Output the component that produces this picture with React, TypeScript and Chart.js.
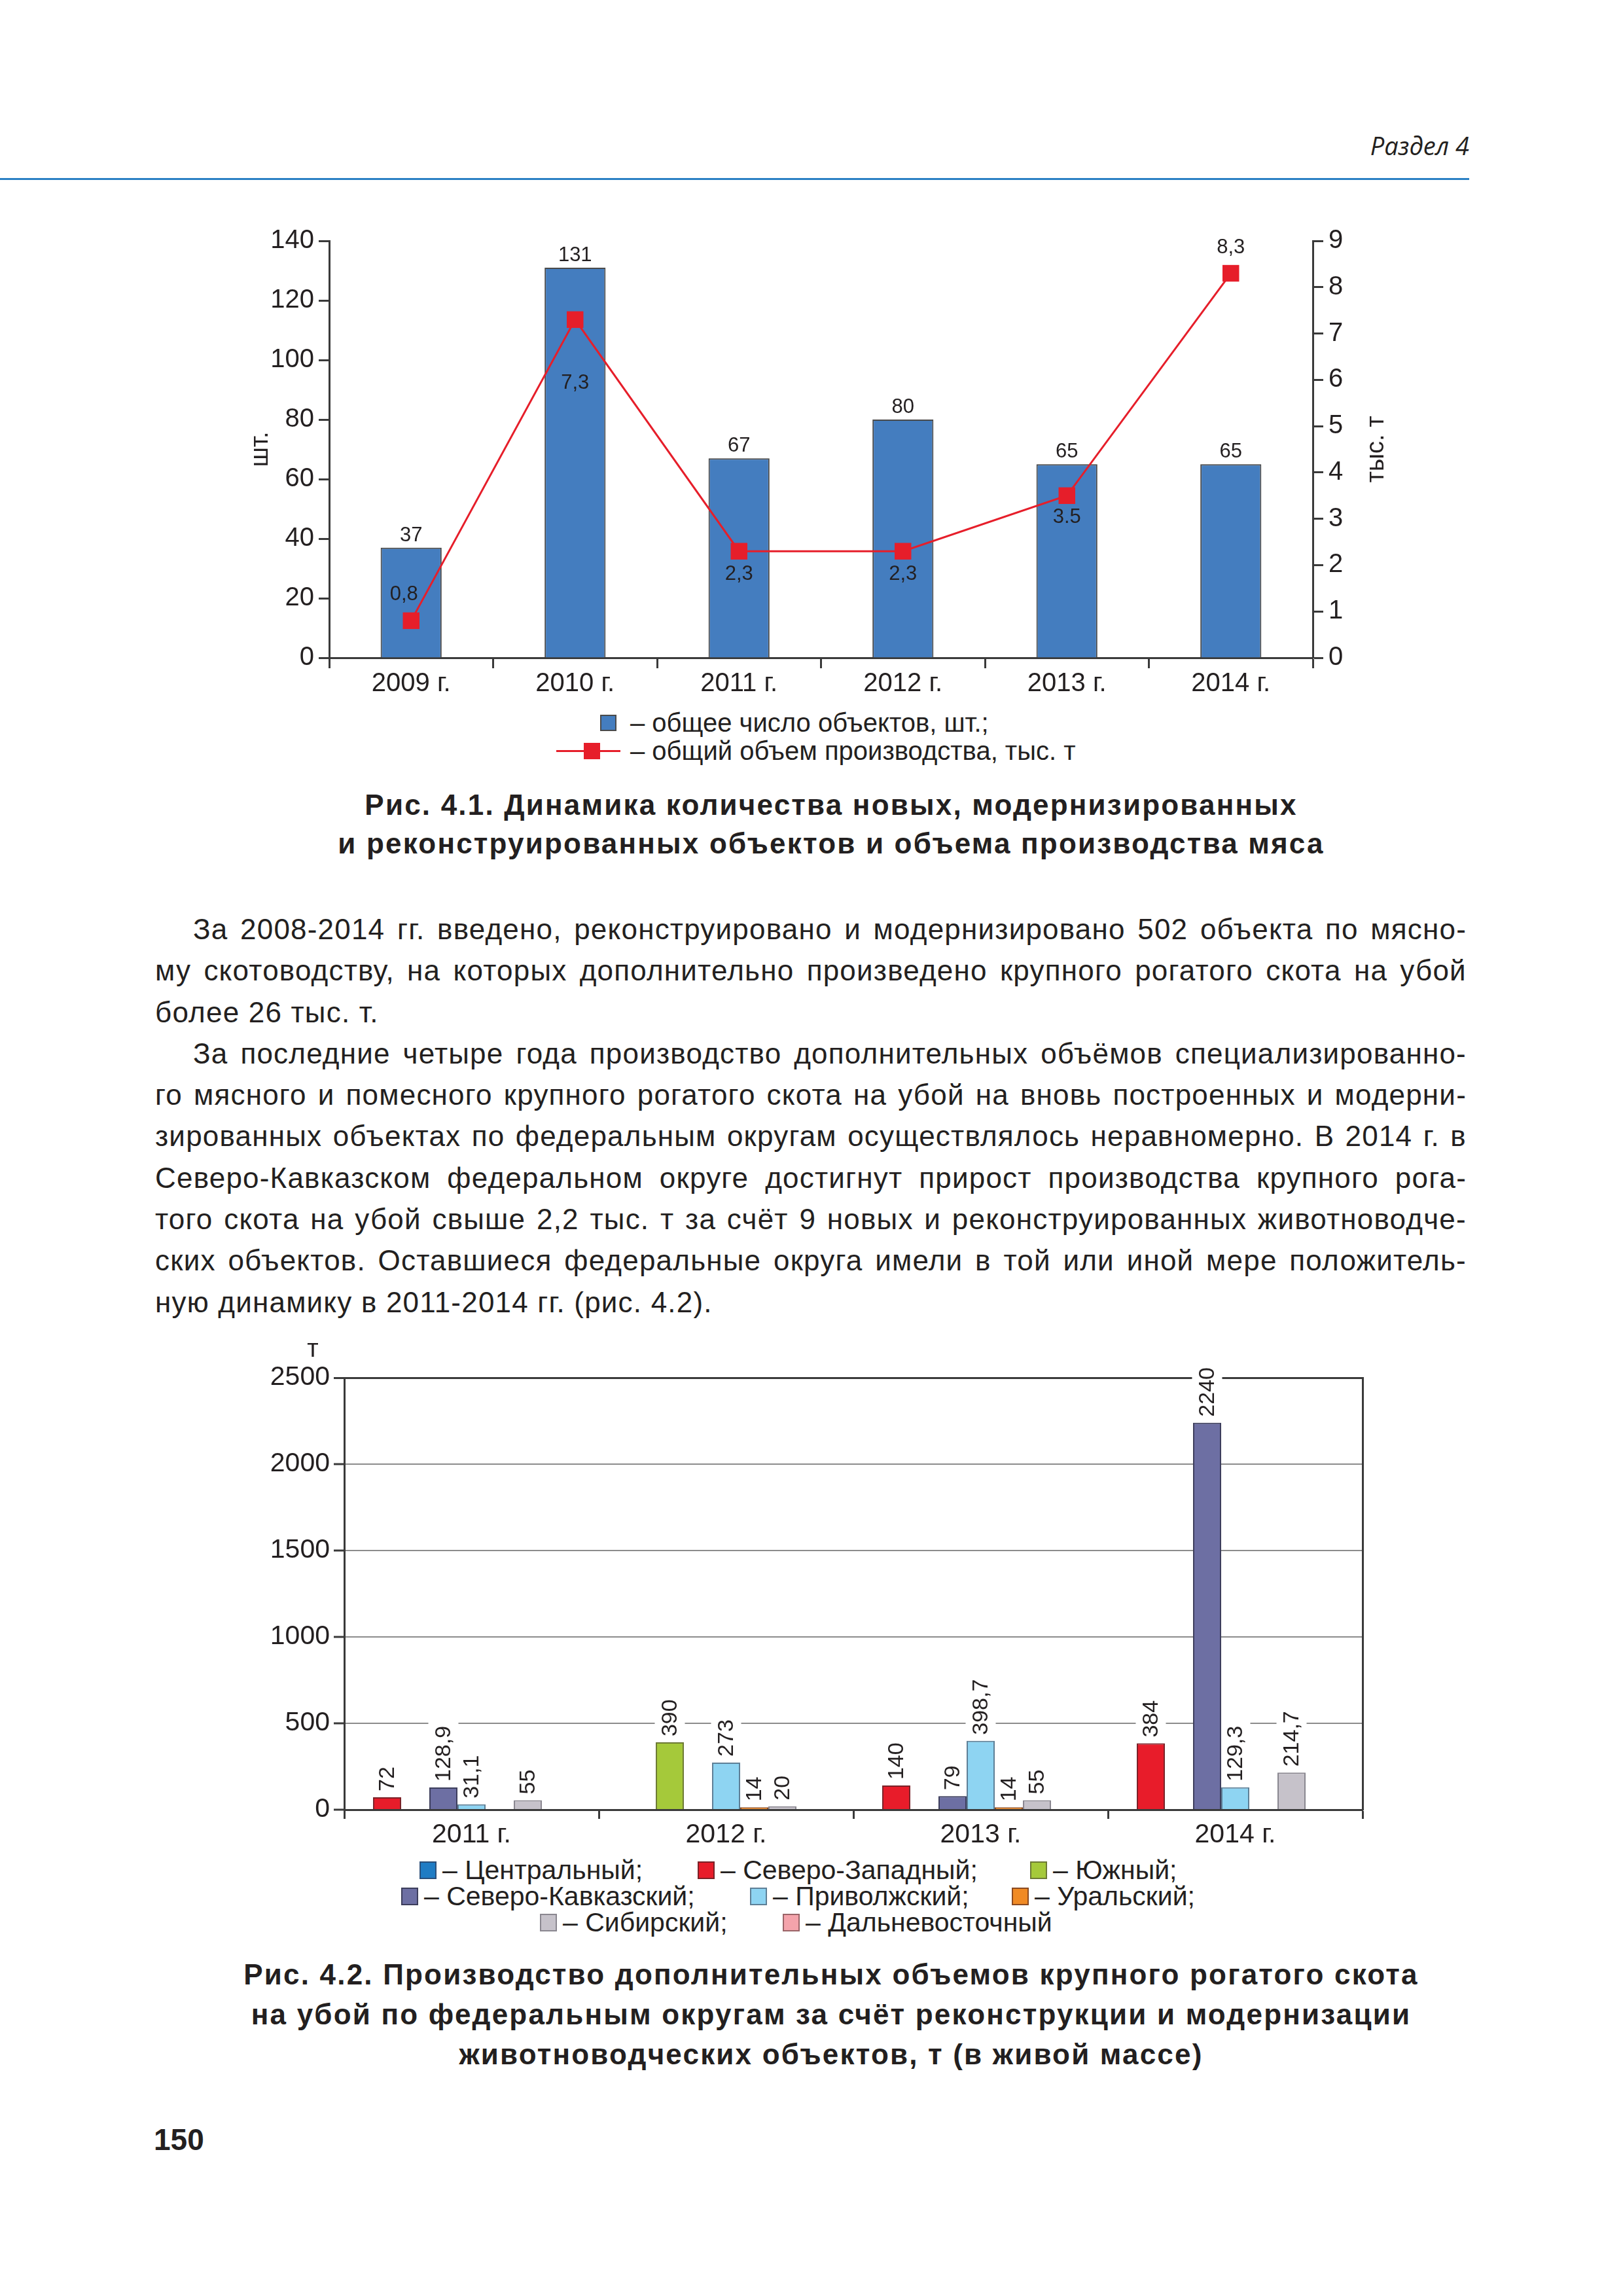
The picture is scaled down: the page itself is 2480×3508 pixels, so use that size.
import React, { useEffect, useRef } from "react";
import { Chart, registerables } from "chart.js";

Chart.register(...registerables);

// ---------- data: figure 4.1 ----------
const years1 = ["2009 г.", "2010 г.", "2011 г.", "2012 г.", "2013 г.", "2014 г."];
const objectCounts = [37, 131, 67, 80, 65, 65];
const productionVolume = [0.8, 7.3, 2.3, 2.3, 3.5, 8.3];
const productionVolumeLabels = ["0,8", "7,3", "2,3", "2,3", "3.5", "8,3"];

// ---------- data: figure 4.2 ----------
const years2 = ["2011 г.", "2012 г.", "2013 г.", "2014 г."];
const districts = [
  "Центральный",
  "Северо-Западный",
  "Южный",
  "Северо-Кавказский",
  "Приволжский",
  "Уральский",
  "Сибирский",
  "Дальневосточный",
];
const central: (number | null)[] = [null, null, null, null];
const northWest: (number | null)[] = [72, null, 140, 384];
const south: (number | null)[] = [null, 390, null, null];
const northCaucasus: (number | null)[] = [128.9, null, 79, 2240];
const volga: (number | null)[] = [31.1, 273, 398.7, 129.3];
const ural: (number | null)[] = [null, 14, 14, null];
const siberia: (number | null)[] = [55, 20, 55, 214.7];
const farEast: (number | null)[] = [null, null, null, null];

// ---------- text ----------
const BODY_LINES = [
  { text: "За 2008-2014 гг. введено, реконструировано и модернизировано 502 объекта по мясно-", indent: true },
  { text: "му скотоводству, на которых дополнительно произведено крупного рогатого скота на убой" },
  { text: "более 26 тыс. т.", last: true },
  { text: "За последние четыре года производство дополнительных объёмов специализированно-", indent: true },
  { text: "го мясного и помесного крупного рогатого скота на убой на вновь построенных и модерни-" },
  { text: "зированных объектах по федеральным округам осуществлялось неравномерно. В 2014 г. в" },
  { text: "Северо-Кавказском федеральном округе достигнут прирост производства крупного рога-" },
  { text: "того скота на убой свыше 2,2 тыс. т за счёт 9 новых и реконструированных животноводче-" },
  { text: "ских объектов. Оставшиеся федеральные округа имели в той или иной мере положитель-" },
  { text: "ную динамику в 2011-2014 гг. (рис. 4.2).", last: true },
];
const CAPTION1 = [
  "Рис. 4.1. Динамика количества новых, модернизированных",
  "и реконструированных объектов и объема производства мяса",
];
const CAPTION2 = [
  "Рис. 4.2. Производство дополнительных объемов крупного рогатого скота",
  "на убой по федеральным округам за счёт реконструкции и модернизации",
  "животноводческих объектов, т (в живой массе)",
];

// ---------- styles ----------
const FONT = '"Liberation Sans", Arial, Helvetica, sans-serif';
const INK = "#231f20";
const AXIS = "#3a3a3a";
const BLUE = "#447dbf";
const RED = "#e61e2a";
const DISTRICT_FILL = ["#1f7cc4", "#e81c2a", "#a5c93a", "#6d6fa3", "#8ed4f2", "#f08a24", "#c6c2ca", "#f4a3ab"];
const DISTRICT_BORDER = ["#2a4f7a", "#7a2228", "#6d7a35", "#3d3e5c", "#5e7f96", "#8b4a20", "#8a8790", "#9a6468"];
// label placement of the volume labels relative to their points (dx, dy)
const VOLUME_LABEL_OFFSETS = [
  [-11, -40],
  [0, 97],
  [0, 35],
  [0, 35],
  [0, 33],
  [0, -39],
];

const fmt = (v: number) => String(v).replace(".", ",");

function drawRotated(ctx: CanvasRenderingContext2D, text: string, x: number, y: number) {
  ctx.save();
  ctx.translate(x, y);
  ctx.rotate(-Math.PI / 2);
  ctx.textAlign = "center";
  ctx.textBaseline = "middle";
  ctx.fillText(text, 0, 0);
  ctx.restore();
}

const chart1Labels = {
  id: "chart1Labels",
  afterDatasetsDraw(chart: any) {
    const ctx: CanvasRenderingContext2D = chart.ctx;
    ctx.save();
    ctx.fillStyle = INK;
    ctx.font = `31px ${FONT}`;
    ctx.textAlign = "center";
    const barMeta = chart.getDatasetMeta(1);
    barMeta.data.forEach((el: any, i: number) => {
      ctx.textBaseline = "bottom";
      ctx.fillText(String(objectCounts[i]), el.x, el.y - 3);
    });
    const lineMeta = chart.getDatasetMeta(0);
    lineMeta.data.forEach((el: any, i: number) => {
      const [dx, dy] = VOLUME_LABEL_OFFSETS[i];
      ctx.textBaseline = "middle";
      ctx.fillText(productionVolumeLabels[i], el.x + dx, el.y + dy);
    });
    const { left, right, top, bottom } = chart.chartArea;
    const mid = (top + bottom) / 2;
    ctx.font = `38px ${FONT}`;
    drawRotated(ctx, "шт.", left - 104, mid);
    drawRotated(ctx, "тыс. т", right + 98, mid);
    ctx.restore();
  },
};

const LABEL_GAP = 9;
const LABEL_FONT = 34;

function eachBarLabel(chart: any, cb: (text: string, x: number, y: number, w: number) => void) {
  const ctx: CanvasRenderingContext2D = chart.ctx;
  ctx.font = `${LABEL_FONT}px ${FONT}`;
  chart.data.datasets.forEach((ds: any, di: number) => {
    if (!ds.label) return;
    const meta = chart.getDatasetMeta(di);
    meta.data.forEach((el: any, i: number) => {
      const v = ds.data[i];
      if (v === null || v === undefined) return;
      const text = fmt(v);
      const w = ctx.measureText(text).width;
      cb(text, el.x, el.y, w);
    });
  });
}

const chart2Labels = {
  id: "chart2Labels",
  beforeDatasetsDraw(chart: any) {
    const ctx: CanvasRenderingContext2D = chart.ctx;
    ctx.save();
    ctx.fillStyle = "#ffffff";
    eachBarLabel(chart, (text, x, y, w) => {
      ctx.fillRect(x - 23, y - LABEL_GAP - w - 8, 46, w + 12);
    });
    ctx.restore();
  },
  afterDatasetsDraw(chart: any) {
    const ctx: CanvasRenderingContext2D = chart.ctx;
    ctx.save();
    ctx.fillStyle = INK;
    eachBarLabel(chart, (text, x, y) => {
      ctx.save();
      ctx.translate(x, y - LABEL_GAP);
      ctx.rotate(-Math.PI / 2);
      ctx.textAlign = "left";
      ctx.textBaseline = "middle";
      ctx.fillText(text, 0, 1);
      ctx.restore();
    });
    ctx.restore();
  },
  afterDraw(chart: any) {
    const ctx: CanvasRenderingContext2D = chart.ctx;
    const { left, top } = chart.chartArea;
    ctx.save();
    ctx.fillStyle = INK;
    ctx.font = `38px ${FONT}`;
    ctx.textAlign = "center";
    ctx.textBaseline = "middle";
    ctx.fillText("т", left - 48, top - 42);
    ctx.restore();
  },
};

function Figure1() {
  const ref = useRef<HTMLCanvasElement | null>(null);
  useEffect(() => {
    if (!ref.current) return;
    const tickFont = { family: FONT, size: 40 };
    const chart = new Chart(ref.current, {
      type: "bar",
      data: {
        labels: years1,
        datasets: [
          {
            type: "line",
            label: "общий объем производства, тыс. т",
            data: productionVolume,
            yAxisID: "y2",
            borderColor: RED,
            borderWidth: 3,
            pointStyle: "rect",
            pointRadius: 18,
            pointBackgroundColor: RED,
            pointBorderColor: RED,
            pointBorderWidth: 0,
            tension: 0,
            order: 0,
          } as any,
          {
            type: "bar",
            label: "общее число объектов, шт.",
            data: objectCounts,
            yAxisID: "y",
            backgroundColor: BLUE,
            borderColor: "#4a4a4a",
            borderWidth: 2,
            barPercentage: 0.372,
            categoryPercentage: 1,
            order: 1,
          } as any,
        ],
      },
      options: {
        responsive: false,
        animation: false,
        devicePixelRatio: 1,
        layout: { padding: { top: 38, left: 0, right: 0, bottom: 0 } },
        plugins: { legend: { display: false }, tooltip: { enabled: false } },
        scales: {
          x: {
            offset: true,
            grid: { offset: true, drawOnChartArea: false, drawTicks: true, tickLength: 16, tickWidth: 3, tickColor: AXIS },
            border: { color: AXIS, width: 3 },
            ticks: { font: tickFont, color: INK, padding: 0 },
            afterFit: (s: any) => {
              s.height = 65;
            },
          },
          y: {
            position: "left",
            min: 0,
            max: 140,
            ticks: { stepSize: 20, font: tickFont, color: INK, padding: 7 },
            grid: { drawOnChartArea: false, drawTicks: true, tickLength: 16, tickWidth: 3, tickColor: AXIS },
            border: { color: AXIS, width: 3 },
            afterFit: (s: any) => {
              s.width = 123;
            },
          },
          y2: {
            position: "right",
            min: 0,
            max: 9,
            ticks: { stepSize: 1, font: tickFont, color: INK, padding: 8 },
            grid: { drawOnChartArea: false, drawTicks: true, tickLength: 16, tickWidth: 3, tickColor: AXIS },
            border: { color: AXIS, width: 3 },
            afterFit: (s: any) => {
              s.width = 174;
            },
          },
        },
      } as any,
      plugins: [chart1Labels],
    });
    return () => chart.destroy();
  }, []);
  return (
    <canvas
      ref={ref}
      width={1800}
      height={740}
      style={{ position: "absolute", left: 380, top: 330, width: 1800, height: 740 }}
    />
  );
}

function Figure2() {
  const ref = useRef<HTMLCanvasElement | null>(null);
  useEffect(() => {
    if (!ref.current) return;
    const series = [central, northWest, south, northCaucasus, volga, ural, siberia, farEast];
    const datasets: any[] = districts.map((name, i) => ({
      label: name,
      data: series[i],
      backgroundColor: DISTRICT_FILL[i],
      borderColor: DISTRICT_BORDER[i],
      borderWidth: 2,
      barPercentage: 1,
      categoryPercentage: 0.995,
    }));
    // empty trailing slot, as in the original layout of the groups
    datasets.push({ label: "", data: [null, null, null, null], barPercentage: 1, categoryPercentage: 0.995 });
    const chart = new Chart(ref.current, {
      type: "bar",
      data: { labels: years2, datasets },
      options: {
        responsive: false,
        animation: false,
        devicePixelRatio: 1,
        layout: { padding: { top: 65, left: 0, right: 58, bottom: 0 } },
        plugins: { legend: { display: false }, tooltip: { enabled: false } },
        scales: {
          x: {
            offset: true,
            grid: { offset: true, drawOnChartArea: false, drawTicks: true, tickLength: 14, tickWidth: 3, tickColor: AXIS },
            border: { color: AXIS, width: 3 },
            ticks: { font: { family: FONT, size: 41 }, color: INK, padding: 0 },
            afterFit: (s: any) => {
              s.height = 65;
            },
          },
          y: {
            position: "left",
            min: 0,
            max: 2500,
            ticks: {
              stepSize: 500,
              font: { family: FONT, size: 41 },
              color: INK,
              padding: 6,
              callback: (v: any) => String(v),
            },
            grid: {
              drawOnChartArea: true,
              drawTicks: true,
              tickLength: 16,
              tickWidth: 3,
              tickColor: AXIS,
              color: (c: any) => (c.tick && c.tick.value === 2500 ? AXIS : "#8c8c8c"),
              lineWidth: (c: any) => (c.tick && c.tick.value === 2500 ? 3 : 2),
            },
            border: { color: AXIS, width: 3 },
            afterFit: (s: any) => {
              s.width = 146;
            },
          },
          y2: {
            position: "right",
            min: 0,
            max: 2500,
            ticks: { display: false },
            grid: { display: false },
            border: { display: true, color: AXIS, width: 3 },
            afterFit: (s: any) => {
              s.width = 0;
            },
          },
        },
      } as any,
      plugins: [chart2Labels],
    });
    return () => chart.destroy();
  }, []);
  return (
    <canvas
      ref={ref}
      width={1760}
      height={790}
      style={{ position: "absolute", left: 380, top: 2040, width: 1760, height: 790 }}
    />
  );
}

const legendText: React.CSSProperties = {
  fontFamily: FONT,
  fontSize: 40,
  color: INK,
  whiteSpace: "nowrap",
};

function Legend1() {
  return (
    <>
      <div style={{ position: "absolute", left: 850, top: 1084, height: 41, display: "flex", alignItems: "center" }}>
        <div style={{ width: 113, height: 41, position: "relative" }}>
          <div
            style={{
              position: "absolute",
              left: 67,
              top: 8,
              width: 21,
              height: 21,
              background: BLUE,
              border: "2px solid #4a4a4a",
            }}
          />
        </div>
        <span style={legendText}>– общее число объектов, шт.;</span>
      </div>
      <div style={{ position: "absolute", left: 850, top: 1127, height: 41, display: "flex", alignItems: "center" }}>
        <div style={{ width: 113, height: 41, position: "relative" }}>
          <div style={{ position: "absolute", left: 0, top: 19, width: 98, height: 3, background: RED }} />
          <div style={{ position: "absolute", left: 42, top: 8, width: 25, height: 25, background: RED }} />
        </div>
        <span style={legendText}>– общий объем производства, тыс. т</span>
      </div>
    </>
  );
}

const LEGEND2_POS = [
  [641, 2857],
  [1066, 2857],
  [1574, 2857],
  [613, 2897],
  [1146, 2897],
  [1546, 2897],
  [825, 2937],
  [1196, 2937],
];

function Legend2() {
  return (
    <>
      {districts.map((name, i) => {
        const [x, cy] = LEGEND2_POS[i];
        const last = i === districts.length - 1;
        return (
          <div
            key={name}
            style={{ position: "absolute", left: x, top: cy - 20, height: 40, display: "flex", alignItems: "center" }}
          >
            <div
              style={{
                width: 22,
                height: 23,
                background: DISTRICT_FILL[i],
                border: `2px solid ${DISTRICT_BORDER[i]}`,
                marginRight: 9,
              }}
            />
            <span style={{ ...legendText, fontSize: 41 }}>{`– ${name}${last ? "" : ";"}`}</span>
          </div>
        );
      })}
    </>
  );
}

function Caption({ lines, top, lineHeight }: { lines: string[]; top: number; lineHeight: number }) {
  return (
    <div
      style={{
        position: "absolute",
        left: 0,
        top,
        width: 2540,
        textAlign: "center",
        fontFamily: FONT,
        fontWeight: "bold",
        fontSize: 44,
        letterSpacing: "2.2px",
        lineHeight: `${lineHeight}px`,
        color: INK,
      }}
    >
      {lines.map((l, i) => (
        <div key={i}>{l}</div>
      ))}
    </div>
  );
}

function BodyText() {
  return (
    <div
      style={{
        position: "absolute",
        left: 237,
        top: 1388,
        width: 2004,
        fontFamily: FONT,
        fontSize: 44,
        letterSpacing: "1.2px",
        color: INK,
      }}
    >
      {BODY_LINES.map((l: any, i) => {
        const base: React.CSSProperties = {
          height: 63.3,
          lineHeight: "63.3px",
          paddingLeft: l.indent ? 58 : 0,
          whiteSpace: "nowrap",
        };
        if (l.last) {
          return (
            <div key={i} style={base}>
              {l.text}
            </div>
          );
        }
        return (
          <div key={i} style={{ ...base, display: "flex", justifyContent: "space-between", columnGap: 6 }}>
            {l.text.split(" ").map((w: string, j: number) => (
              <span key={j}>{w}</span>
            ))}
          </div>
        );
      })}
    </div>
  );
}

export default function App() {
  return (
    <div
      style={{
        position: "absolute",
        left: 0,
        top: 0,
        width: 2480,
        height: 3508,
        overflow: "hidden",
        background: "#ffffff",
      }}
    >
      <div
        style={{
          position: "absolute",
          right: 235,
          top: 203,
          fontFamily: '"Open Sans", sans-serif',
          fontStyle: "italic",
          fontSize: 38,
          lineHeight: "38px",
          color: INK,
        }}
      >
        Раздел 4
      </div>
      <div style={{ position: "absolute", left: 0, top: 272, width: 2245, height: 3, background: "#2a80c4" }} />

      <Figure1 />
      <Legend1 />
      <Caption lines={CAPTION1} top={1200} lineHeight={59} />

      <BodyText />

      <Figure2 />
      <Legend2 />
      <Caption lines={CAPTION2} top={2986} lineHeight={61} />

      <div
        style={{
          position: "absolute",
          left: 235,
          top: 3246,
          fontFamily: FONT,
          fontWeight: "bold",
          fontSize: 46,
          lineHeight: "46px",
          color: INK,
        }}
      >
        150
      </div>
    </div>
  );
}
